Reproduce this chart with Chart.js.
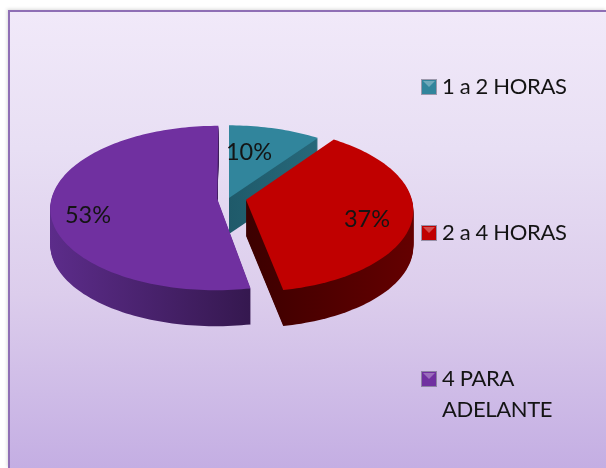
<!DOCTYPE html>
<html><head><meta charset="utf-8">
<script src="https://cdn.jsdelivr.net/npm/chart.js@4"></script>
<style>
html,body{margin:0;padding:0;background:#fff;overflow:hidden}
#frame{position:absolute;left:8px;top:10px;width:598px;height:458px;box-sizing:border-box;border-left:2px solid #8f6fb5;border-top:2px solid #8f6fb5;box-shadow:-1px -1px 3px rgba(120,120,120,.25);background:linear-gradient(180deg,#f1e9f9 0%,#e8dff4 30%,#dccdec 62%,#c4aee3 100%)}
canvas{position:absolute;left:0;top:0;filter:blur(0.4px)}
</style></head><body>
<div id="frame"></div>
<canvas id="c" width="606" height="468"></canvas>
<script>
const categories = ['1 a 2 HORAS', '2 a 4 HORAS', ['4 PARA', 'ADELANTE']];
const values = [10, 37, 53];
const topColors = ['#31859c', '#c00000', '#7030a0'];
const wallColors = [['#1f5a6a', '#27687a'], ['#3c0000', '#640000'], ['#5c2c8a', '#35184f']];
const explode = [0, 0.105, 0.072];
const paintOrder = [0, 2, 1];

const pieCentre = {x: 229, y: 198}, rx = 165.5, ry = 81, persp = 0.115, depth = 36;
const labelPos = [[249, 152], [367, 219], [88, 215]];
const legendPos = [[421, 94], [421, 240], [421, 386]];
const legendFont = '22px Lato', labelFont = '23.5px Lato', lineGap = 31;

function project(u, v) {
  const w = 1 + persp * v;
  return [pieCentre.x + rx * u / w, pieCentre.y - ry * v / w];
}
function slicePoints(el, ex) {
  const mid = (el.startAngle + el.endAngle) / 2;
  const ox = ex * Math.cos(mid), oy = -ex * Math.sin(mid);
  const pts = [project(ox, oy)];
  const steps = Math.ceil((el.endAngle - el.startAngle) * 40);
  for (let i = 0; i <= steps; i++) {
    const a = el.startAngle + (el.endAngle - el.startAngle) * i / steps;
    pts.push(project(ox + Math.cos(a), oy - Math.sin(a)));
  }
  return pts;
}
function fillPts(ctx, pts, dy) {
  ctx.beginPath();
  pts.forEach((p, i) => i ? ctx.lineTo(p[0], p[1] + dy) : ctx.moveTo(p[0], p[1] + dy));
  ctx.closePath();
  ctx.fill();
}
const pie3d = {
  id: 'pie3d',
  beforeDatasetsDraw(chart) {
    const ctx = chart.ctx, arcs = chart.getDatasetMeta(0).data;
    ctx.save();
    paintOrder.forEach(i => {
      const pts = slicePoints(arcs[i], explode[i]);
      const xs = pts.map(p => p[0]);
      const g = ctx.createLinearGradient(Math.min(...xs), 0, Math.max(...xs), 0);
      g.addColorStop(0, wallColors[i][0]);
      g.addColorStop(1, wallColors[i][1]);
      ctx.fillStyle = g;
      for (let d = depth; d >= 1; d--) fillPts(ctx, pts, d);
      ctx.fillStyle = topColors[i];
      fillPts(ctx, pts, 0);
    });
    ctx.restore();
    return false;
  },
  afterDraw(chart) {
    const ctx = chart.ctx, total = values.reduce((a, b) => a + b, 0);
    ctx.save();
    ctx.font = labelFont;
    ctx.fillStyle = '#141414';
    ctx.textAlign = 'center';
    ctx.textBaseline = 'middle';
    values.forEach((v, i) => ctx.fillText(Math.round(v / total * 100) + '%', labelPos[i][0], labelPos[i][1]));
    ctx.font = legendFont;
    ctx.letterSpacing = '-0.35px';
    ctx.textAlign = 'left';
    ctx.textBaseline = 'alphabetic';
    categories.forEach((c, i) => {
      const [x, y] = legendPos[i];
      ctx.fillStyle = topColors[i];
      ctx.fillRect(x + 1, y - 14, 14, 14);
      ctx.strokeStyle = 'rgba(60,60,80,.45)';
      ctx.strokeRect(x + 0.5, y - 14.5, 15, 15);
      ctx.fillStyle = 'rgba(255,255,255,.3)';
      ctx.beginPath();
      ctx.moveTo(x + 2, y - 13);
      ctx.lineTo(x + 14, y - 13);
      ctx.lineTo(x + 8, y - 7);
      ctx.closePath();
      ctx.fill();
      ctx.fillStyle = '#141414';
      [].concat(c).forEach((line, k) => ctx.fillText(line, x + 21, y + k * lineGap));
    });
    ctx.restore();
  }
};
new Chart(document.getElementById('c'), {
  type: 'pie',
  data: {
    labels: categories.map(c => [].concat(c).join(' ')),
    datasets: [{data: values, backgroundColor: topColors, borderWidth: 0}]
  },
  options: {
    responsive: false,
    animation: false,
    plugins: {legend: {display: false}, tooltip: {enabled: false}}
  },
  plugins: [pie3d]
});
</script>
</body></html>
